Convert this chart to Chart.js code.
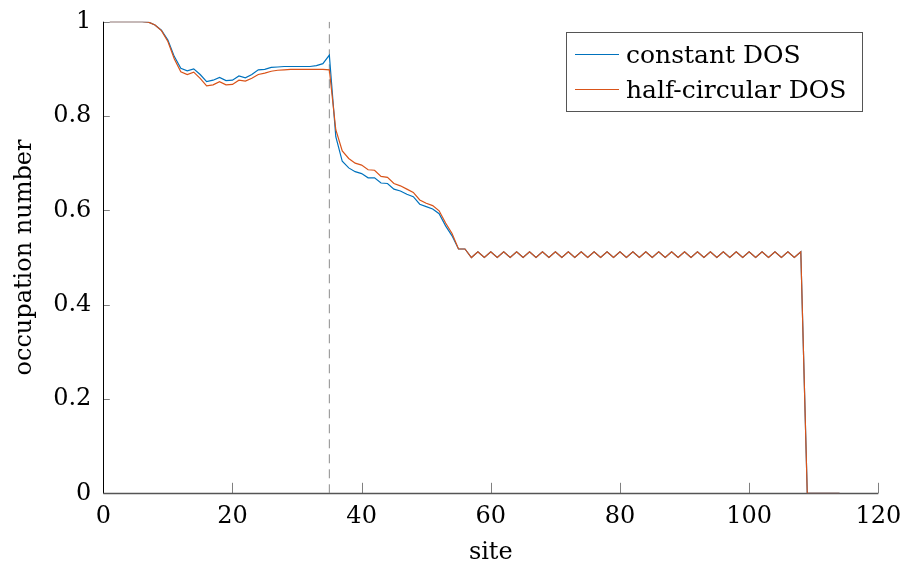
<!DOCTYPE html>
<html>
<head>
<meta charset="utf-8">
<script src="https://cdn.jsdelivr.net/npm/chart.js@4.4.0/dist/chart.umd.min.js"></script>
<style>
    html, body { margin: 0; padding: 0; background: #fff; }
    #wrap { width: 904px; height: 567px; }
</style>
</head>
<body>
<div id="wrap"><canvas id="occ" width="904" height="567"></canvas></div>
<script>
// site index along the chain
var sites = [
    1, 2, 3, 4, 5, 6, 7, 8, 9, 10, 11, 12, 13, 14, 15, 16, 17, 18, 19, 20,
    21, 22, 23, 24, 25, 26, 27, 28, 29, 30, 31, 32, 33, 34, 35, 36, 37, 38, 39, 40,
    41, 42, 43, 44, 45, 46, 47, 48, 49, 50, 51, 52, 53, 54, 55, 56, 57, 58, 59, 60,
    61, 62, 63, 64, 65, 66, 67, 68, 69, 70, 71, 72, 73, 74, 75, 76, 77, 78, 79, 80,
    81, 82, 83, 84, 85, 86, 87, 88, 89, 90, 91, 92, 93, 94, 95, 96, 97, 98, 99, 100,
    101, 102, 103, 104, 105, 106, 107, 108, 109, 110, 111, 112, 113, 114
];

var constantDOS = [
    1, 1, 1, 1, 1, 1, 0.999, 0.993, 0.982, 0.961,
    0.926, 0.901, 0.896, 0.900, 0.888, 0.873, 0.876, 0.882, 0.875, 0.876,
    0.885, 0.881, 0.888, 0.898, 0.899, 0.903, 0.904, 0.905, 0.905, 0.905,
    0.905, 0.905, 0.907, 0.911, 0.929, 0.756, 0.704, 0.690, 0.682, 0.678,
    0.669, 0.669, 0.658, 0.657, 0.645, 0.641, 0.634, 0.629, 0.613, 0.608,
    0.603, 0.593, 0.567, 0.546, 0.518, 0.518, 0.5, 0.512, 0.5, 0.512,
    0.5, 0.512, 0.5, 0.512, 0.5, 0.512, 0.5, 0.512, 0.5, 0.512,
    0.5, 0.512, 0.5, 0.512, 0.5, 0.512, 0.5, 0.512, 0.5, 0.512,
    0.5, 0.512, 0.5, 0.512, 0.5, 0.512, 0.5, 0.512, 0.5, 0.512,
    0.5, 0.512, 0.5, 0.512, 0.5, 0.512, 0.5, 0.512, 0.5, 0.512,
    0.5, 0.512, 0.5, 0.512, 0.5, 0.512, 0.5, 0.512, 0, 0,
    0, 0, 0, 0
];

var halfCircularDOS = [
    1, 1, 1, 1, 1, 1, 0.999, 0.993, 0.981, 0.958,
    0.921, 0.894, 0.888, 0.893, 0.880, 0.864, 0.866, 0.873, 0.866, 0.867,
    0.876, 0.874, 0.880, 0.888, 0.891, 0.895, 0.897, 0.898, 0.899, 0.899,
    0.899, 0.899, 0.899, 0.899, 0.898, 0.771, 0.726, 0.710, 0.700, 0.696,
    0.686, 0.685, 0.672, 0.670, 0.657, 0.652, 0.645, 0.638, 0.622, 0.615,
    0.610, 0.599, 0.573, 0.551, 0.518, 0.518, 0.5, 0.512, 0.5, 0.512,
    0.5, 0.512, 0.5, 0.512, 0.5, 0.512, 0.5, 0.512, 0.5, 0.512,
    0.5, 0.512, 0.5, 0.512, 0.5, 0.512, 0.5, 0.512, 0.5, 0.512,
    0.5, 0.512, 0.5, 0.512, 0.5, 0.512, 0.5, 0.512, 0.5, 0.512,
    0.5, 0.512, 0.5, 0.512, 0.5, 0.512, 0.5, 0.512, 0.5, 0.512,
    0.5, 0.512, 0.5, 0.512, 0.5, 0.512, 0.5, 0.512, 0, 0,
    0, 0, 0, 0
];

// vertical marker at the interface site
var markerSite = [35, 35];
var markerLevel = [0, 1];

var seriesNames = ["constant DOS", "half-circular DOS"];
var xTicks = [0, 20, 40, 60, 80, 100, 120];
var yTicks = [0, 0.2, 0.4, 0.6, 0.8, 1];

var SERIF = "'DejaVu Serif', serif";

function toPoints(xs, ys) {
    var pts = [];
    for (var i = 0; i < xs.length; i++) {
        pts.push({ x: xs[i], y: ys[i] });
    }
    return pts;
}

// axis lines and inward tick marks
var axesPlugin = {
    id: "axesInside",
    beforeDatasetsDraw: function (chart) {
        var ctx = chart.ctx;
        var xs = chart.scales.x;
        var ys = chart.scales.y;
        var a = chart.chartArea;
        ctx.save();
        ctx.lineWidth = 1;
        ctx.strokeStyle = "#808080";
        yTicks.forEach(function (v) {
            var py = Math.round(ys.getPixelForValue(v)) + 0.5;
            ctx.beginPath();
            ctx.moveTo(a.left, py);
            ctx.lineTo(a.left + 6.5, py);
            ctx.stroke();
        });
        xTicks.forEach(function (v) {
            var px = Math.round(xs.getPixelForValue(v)) + 0.5;
            ctx.beginPath();
            ctx.moveTo(px, a.bottom);
            ctx.lineTo(px, a.bottom - 10.5);
            ctx.stroke();
        });
        ctx.strokeStyle = "#000";
        ctx.beginPath();
        ctx.moveTo(Math.round(a.left) + 0.5, a.top);
        ctx.lineTo(Math.round(a.left) + 0.5, a.bottom);
        ctx.stroke();
        ctx.strokeStyle = "#555";
        ctx.lineWidth = 1.3;
        ctx.beginPath();
        ctx.moveTo(a.left, Math.round(a.bottom) + 0.5);
        ctx.lineTo(a.right, Math.round(a.bottom) + 0.5);
        ctx.stroke();
        ctx.restore();
    },
};

// legend box in the upper right corner
var legendPlugin = {
    id: "boxLegend",
    afterDraw: function (chart) {
        var ctx = chart.ctx;
        var ds = chart.data.datasets;
        ctx.save();
        ctx.fillStyle = "#fff";
        ctx.fillRect(566.5, 32.5, 296, 79);
        ctx.strokeStyle = "#555";
        ctx.lineWidth = 1;
        ctx.strokeRect(566.5, 32.5, 296, 79);
        var rows = [54.5, 89.5];
        for (var i = 0; i < 2; i++) {
            ctx.strokeStyle = ds[i + 1].borderColor;
            ctx.lineWidth = 1.2;
            ctx.beginPath();
            ctx.moveTo(575, rows[i]);
            ctx.lineTo(619, rows[i]);
            ctx.stroke();
            ctx.fillStyle = "#000";
            ctx.font = "25px " + SERIF;
            ctx.textBaseline = "alphabetic";
            ctx.fillText(seriesNames[i], 626, rows[i] + 8.5);
        }
        ctx.restore();
    },
};

var ctx = document.getElementById("occ").getContext("2d");
var occChart = new Chart(ctx, {
    type: "line",
    data: {
        datasets: [
            {
                label: "marker",
                data: toPoints(markerSite, markerLevel),
                borderColor: "#8c8c8c",
                borderWidth: 1,
                borderDash: [9, 6],
                pointRadius: 0,
                order: 3,
            },
            {
                label: seriesNames[0],
                data: toPoints(sites, constantDOS),
                borderColor: "#0072BD",
                borderWidth: 1.2,
                pointRadius: 0,
                tension: 0,
                order: 2,
            },
            {
                label: seriesNames[1],
                data: toPoints(sites, halfCircularDOS),
                borderColor: "#D95319",
                borderWidth: 1.2,
                pointRadius: 0,
                tension: 0,
                order: 1,
            },
        ],
    },
    options: {
        responsive: false,
        animation: false,
        devicePixelRatio: 1,
        layout: {
            padding: { top: 21.7, right: 25.7, left: 0, bottom: 0 },
        },
        plugins: {
            legend: { display: false },
            tooltip: { enabled: false },
        },
        scales: {
            x: {
                type: "linear",
                min: 0,
                max: 120,
                afterBuildTicks: function (scale) {
                    scale.ticks = xTicks.map(function (v) { return { value: v }; });
                },
                afterFit: function (scale) {
                    scale.height = 73.7;
                    scale.paddingLeft = 0;
                    scale.paddingRight = 0;
                },
                grid: { display: false, drawTicks: false },
                border: { display: false },
                ticks: {
                    padding: 9,
                    color: "#000",
                    maxRotation: 0,
                    font: { family: SERIF, size: 24 },
                },
                title: {
                    display: true,
                    text: "site",
                    color: "#000",
                    padding: { top: 0, bottom: 0 },
                    font: { family: SERIF, size: 24 },
                },
            },
            y: {
                min: 0,
                max: 1,
                afterBuildTicks: function (scale) {
                    scale.ticks = yTicks.map(function (v) { return { value: v }; });
                },
                afterFit: function (scale) {
                    scale.width = 103.3;
                    scale.paddingTop = 0;
                    scale.paddingBottom = 0;
                },
                grid: { display: false, drawTicks: false },
                border: { display: false },
                ticks: {
                    padding: 12,
                    color: "#000",
                    font: { family: SERIF, size: 24 },
                    callback: function (v) { return String(v); },
                },
                title: {
                    display: true,
                    text: "occupation number",
                    color: "#000",
                    padding: { top: 10, bottom: 0 },
                    font: { family: SERIF, size: 24 },
                },
            },
        },
    },
    plugins: [axesPlugin, legendPlugin],
});
</script>
</body>
</html>
